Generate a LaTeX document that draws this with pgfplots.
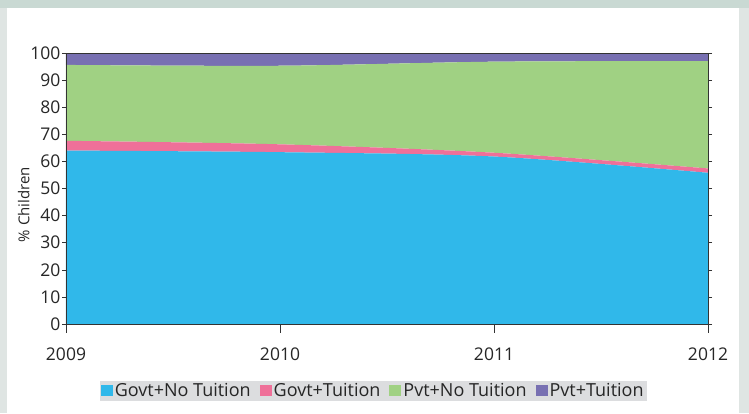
\documentclass[border=0pt]{standalone}
\usepackage{pgfplots}
\pgfplotsset{compat=1.18}
\usepackage{fontspec}
\setmainfont{Open Sans}
\definecolor{cblue}{HTML}{30B8EA}
\definecolor{cpink}{HTML}{EF7099}
\definecolor{cgreen}{HTML}{A0D183}
\definecolor{cpurple}{HTML}{7870B2}
\definecolor{framegray}{HTML}{DFE5E3}
\definecolor{topgray}{HTML}{C9D9D3}
\definecolor{leggray}{HTML}{DCDDDF}
\begin{document}
\begin{tikzpicture}
\fill[framegray] (-66pt,-89pt) rectangle (683pt,324pt);
\fill[topgray] (-66pt,316pt) rectangle (683pt,324pt);
\fill[white] (-59pt,-89pt) rectangle (673pt,316pt);
\begin{axis}[
  at={(0pt,0pt)}, anchor=south west,
  scale only axis, width=642pt, height=271pt,
  xmin=2009, xmax=2012, ymin=0, ymax=100,
  xtick={2009,2010,2011,2012},
  xticklabels={2009,2010,2011,2012},
  ytick={0,10,...,100},
  stack plots=y,
  axis line style={draw=black!80, line width=0.8pt},
  tick style={draw=black!80, line width=0.6pt},
  tick align=outside,
  major tick length=4pt,
  xtick style={draw=none},
  x tick label style={font=\fontsize{17.5}{17.5}\selectfont, text=black!85, yshift=-16pt},
  y tick label style={font=\fontsize{17.5}{17.5}\selectfont, text=black!85, xshift=2pt},
  /pgf/number format/assume math mode=true,
  /pgf/number format/1000 sep={},
  ylabel={\% Children},
  ylabel style={font=\fontsize{15}{15}\selectfont, text=black!85, yshift=-6pt, xshift=-16pt},
  legend columns=4,
  legend style={at={(0.4785,-0.2470)}, anchor=center, fill=leggray, draw=none,
    font=\fontsize{18}{18}\selectfont, text=black!85, inner sep=1pt,
    /tikz/every even column/.append style={column sep=7pt}},
  legend image code/.code={\fill[#1] (0pt,-5.5pt) rectangle (12pt,5.5pt);},
  every axis plot/.append style={draw=none},
  axis on top,
  clip=false,
]
\addplot[fill=cblue, smooth] coordinates {(2009,64.0) (2010,63.4) (2011,61.8) (2012,55.8)} \closedcycle;
\addplot[fill=cpink, smooth] coordinates {(2009,3.6) (2010,2.9) (2011,1.4) (2012,1.6)} \closedcycle;
\addplot[fill=cgreen, smooth] coordinates {(2009,28.0) (2010,29.0) (2011,33.6) (2012,39.6)} \closedcycle;
\addplot[fill=cpurple, smooth] coordinates {(2009,4.4) (2010,4.7) (2011,3.2) (2012,3.0)} \closedcycle;
\legend{Govt+No Tuition,Govt+Tuition,Pvt+No Tuition,Pvt+Tuition}
\draw[black!80, line width=0.6pt] (rel axis cs:0,0) -- ++(0pt,-9pt);
\draw[black!80, line width=0.6pt] (rel axis cs:0.33333,0) -- ++(0pt,-9pt);
\draw[black!80, line width=0.6pt] (rel axis cs:0.66667,0) -- ++(0pt,-9pt);
\draw[black!80, line width=0.6pt] (rel axis cs:1,0) -- ++(0pt,-9pt);
\end{axis}
\end{tikzpicture}
\end{document}
